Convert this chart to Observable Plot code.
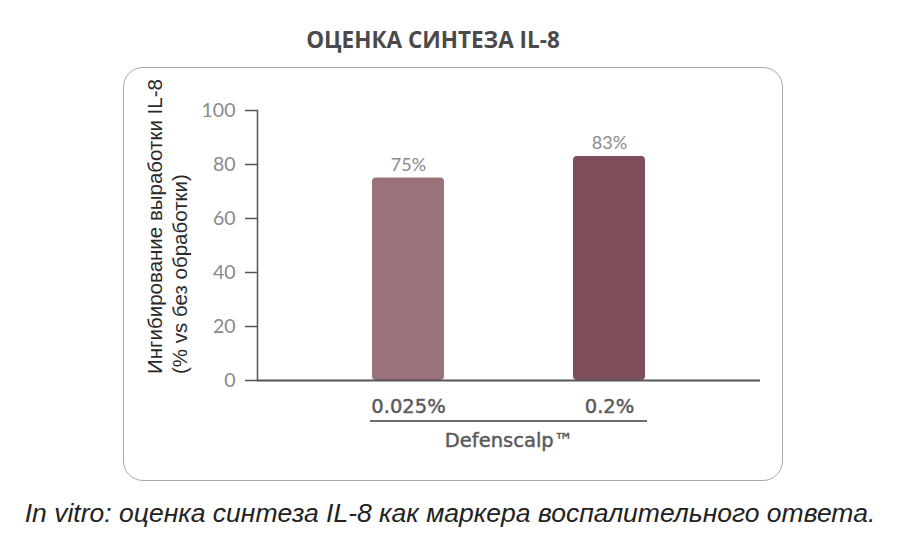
<!DOCTYPE html>
<html>
<head>
<meta charset="utf-8">
<script src="https://cdn.jsdelivr.net/npm/d3@7"></script>
<script src="https://cdn.jsdelivr.net/npm/@observablehq/plot@0.6"></script>
<style>
  html, body { margin: 0; padding: 0; background: #fff; }
  #wrap { position: relative; width: 904px; height: 540px; overflow: hidden; background: #fff; }
  #box { position: absolute; left: 123px; top: 67px; width: 660px; height: 414px;
         border: 1.5px solid #a9a9a9; border-radius: 20px; box-sizing: border-box; }
  #chart { position: absolute; left: 0; top: 0; }
  #chart g[aria-label="x-axis tick label"] text,
  #chart g[aria-label="x-axis label"] text { stroke: #5a5a5a; stroke-width: 0.45px; }
  #title { position: absolute; left: 0; width: 866px; top: 24px; text-align: center; line-height: normal;
           font-family: "Open Sans", sans-serif; font-weight: 700; font-size: 22.5px; color: #4a4a4a; }
  #caption { position: absolute; left: 0; width: 900px; top: 500px; text-align: center; line-height: 1;
             font-family: "Liberation Sans", Arial, sans-serif; font-style: italic; font-size: 26.5px; color: #222; }
  .ylab { position: absolute; transform-origin: 0 0; transform: rotate(-90deg); white-space: nowrap;
          font-family: "Liberation Sans", Arial, sans-serif; font-size: 20.5px; color: #2a2a2a; }
  #uline { position: absolute; left: 370px; top: 420px; width: 277px; border-top: 2px solid #6e6e6e; }
</style>
</head>
<body>
<div id="wrap">
  <div id="box"></div>
  <div id="title"></div>
  <div id="chart"></div>
  <div id="uline"></div>
  <div class="ylab" id="ylab1"></div>
  <div class="ylab" id="ylab2"></div>
  <div id="caption"></div>
</div>
<script>
const title = "ОЦЕНКА СИНТЕЗА IL-8";
const caption = "In vitro: оценка синтеза IL-8 как маркера воспалительного ответа.";
const yLabelLines = ["Ингибирование выработки IL-8", "(% vs без обработки)"];
const xGroupLabel = "Defenscalp™";
const categories = ["0.025%", "0.2%"];
const values = [75, 83];
const barColors = ["#9b727a", "#7e4f5a"];
const yTicks = [0, 20, 40, 60, 80, 100];

const data = categories.map((c, i) => ({cat: c, value: values[i], color: barColors[i]}));

document.getElementById("title").textContent = title;
document.getElementById("caption").textContent = caption;
const l1 = document.getElementById("ylab1");
const l2 = document.getElementById("ylab2");
l1.textContent = yLabelLines[0];
l2.textContent = yLabelLines[1];
l1.style.left = "143px"; l1.style.top = "374px";
l2.style.left = "168px"; l2.style.top = "374px";

const chart = Plot.plot({
  width: 904,
  height: 540,
  marginTop: 110,
  marginBottom: 160,
  marginLeft: 257,
  marginRight: 144,
  style: {background: "transparent", overflow: "visible"},
  x: {domain: categories, paddingInner: 0.643, paddingOuter: 0.57},
  y: {domain: [0, 100]},
  marks: [
    Plot.barY(data, {x: "cat", y: "value", fill: "color", rx: 4}),
    Plot.text(data, {x: "cat", y: "value", text: d => d.value + "%", dy: -13,
      fill: "#8a8a8a", fontSize: 18, fontFamily: "Lato, sans-serif"}),
    Plot.axisY({ticks: yTicks, tickSize: 12, tickPadding: 10, label: null,
      stroke: "#555", strokeWidth: 1.5, fill: "#8a8a8a", fontSize: 19.5, fontFamily: "Lato, sans-serif"}),
    Plot.frame({anchor: "left", stroke: "#555", strokeWidth: 1.5}),
    Plot.axisX({tickSize: 0, tickPadding: 19, label: xGroupLabel, labelAnchor: "center", labelArrow: "none",
      labelOffset: 66, fill: "#5a5a5a", fontSize: 19.5, fontFamily: "DejaVu Sans, sans-serif"}),
    Plot.ruleY([0], {stroke: "#555", strokeWidth: 2})
  ]
});
document.getElementById("chart").appendChild(chart);
</script>
</body>
</html>
